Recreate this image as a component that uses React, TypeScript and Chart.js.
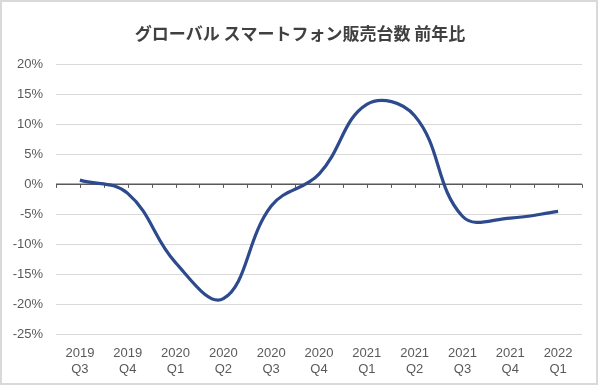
import React, { useEffect, useRef } from "react";
import { Chart, registerables } from "chart.js";

Chart.register(...registerables);

const TITLE = "グローバル スマートフォン販売台数 前年比";
const categories: string[][] = [
  ["2019", "Q3"], ["2019", "Q4"], ["2020", "Q1"], ["2020", "Q2"], ["2020", "Q3"],
  ["2020", "Q4"], ["2021", "Q1"], ["2021", "Q2"], ["2021", "Q3"], ["2021", "Q4"], ["2022", "Q1"],
];
const yoyGrowth: number[] = [0.7, -1.5, -13, -19, -3.6, 1.7, 13.3, 11.4, -5.3, -5.6, -4.5];
const yMin = -25;
const yMax = 20;
const yStep = 5;

const zeroAxisPlugin = {
  id: "zeroAxis",
  beforeDatasetsDraw(chart: any) {
    const x = chart.scales.x;
    const y = chart.scales.y;
    const y0 = y.getPixelForValue(0);
    const ctx = chart.ctx;
    ctx.save();
    ctx.strokeStyle = "#595959";
    ctx.lineWidth = 1.5;
    ctx.beginPath();
    ctx.moveTo(chart.chartArea.left, y0);
    ctx.lineTo(chart.chartArea.right, y0);
    ctx.stroke();
    ctx.lineWidth = 1;
    ctx.beginPath();
    for (let k = 0; k <= categories.length * 2; k++) {
      const px = Math.round(x.getPixelForValue(k / 2 - 0.5)) + 0.5;
      ctx.moveTo(px, y0);
      ctx.lineTo(px, y0 + 3.5);
    }
    ctx.stroke();
    ctx.restore();
  },
};

const centeredTitlePlugin = {
  id: "centeredTitle",
  afterDraw(chart: any) {
    const ctx = chart.ctx;
    ctx.save();
    ctx.font = "bold 17px 'Noto Sans CJK JP', sans-serif";
    ctx.fillStyle = "#404040";
    ctx.textAlign = "center";
    ctx.textBaseline = "middle";
    ctx.fillText(TITLE, chart.width / 2, 34);
    ctx.restore();
  },
};

export default function App() {
  const ref = useRef<HTMLCanvasElement | null>(null);
  useEffect(() => {
    document.body.style.margin = "0";
    const chart = new Chart(ref.current as HTMLCanvasElement, {
      type: "line",
      data: {
        labels: categories,
        datasets: [
          {
            data: yoyGrowth,
            borderColor: "#2C4A8C",
            borderWidth: 3.2,
            pointRadius: 0,
            tension: 0.4,
            fill: false,
            borderCapStyle: "butt",
          },
        ],
      },
      options: {
        animation: false,
        responsive: false,
        layout: { padding: { left: 0, right: 18, top: 64, bottom: -3 } },
        plugins: {
          legend: { display: false },
          tooltip: { enabled: false },
          title: { display: false },
        },
        scales: {
          x: {
            type: "category",
            offset: true,
            grid: { display: false, drawTicks: false },
            border: { display: false },
            ticks: {
              color: "#595959",
              font: { family: "'Liberation Sans', Arial, sans-serif", size: 13, lineHeight: 1.2 },
              padding: 11,
              maxRotation: 0,
              autoSkip: false,
            },
          },
          y: {
            min: yMin,
            max: yMax,
            afterFit: (scale: any) => {
              scale.width = 56;
            },
            grid: {
              color: (c: any) => (c.tick && c.tick.value === 0 ? "rgba(0,0,0,0)" : "#d9d9d9"),
              lineWidth: 1,
              drawTicks: false,
            },
            border: { display: false },
            ticks: {
              stepSize: yStep,
              color: "#595959",
              font: { family: "'Liberation Sans', Arial, sans-serif", size: 13 },
              padding: 13,
              callback: (v: any) => `${v}%`,
            },
          },
        },
      },
      plugins: [zeroAxisPlugin, centeredTitlePlugin],
    });
    return () => chart.destroy();
  }, []);
  return (
    <div style={{ position: "relative", width: 600, height: 385, background: "#fff" }}>
      <canvas ref={ref} width={600} height={385} style={{ position: "absolute", left: 0, top: 0 }} />
      <div
        style={{
          position: "absolute",
          left: 0,
          top: 0,
          width: 598,
          height: 385,
          border: "2px solid #d9d9d9",
          boxSizing: "border-box",
          pointerEvents: "none",
        }}
      />
    </div>
  );
}
